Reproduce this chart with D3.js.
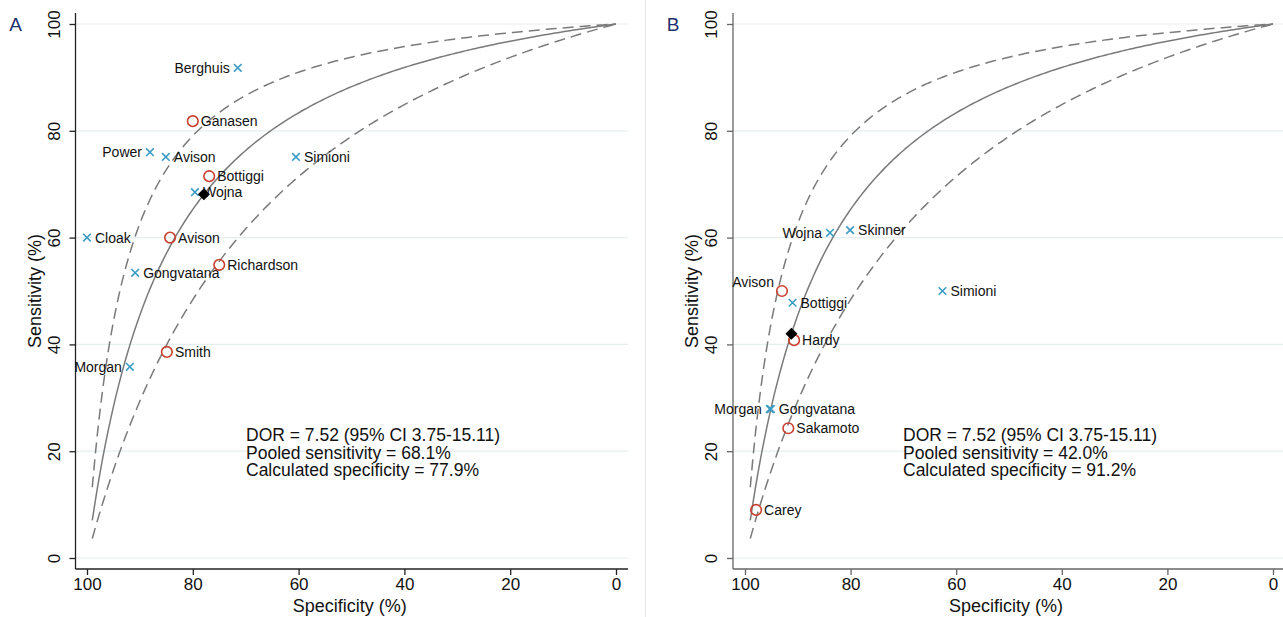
<!DOCTYPE html>
<html>
<head>
<meta charset="utf-8">
<script src="https://cdn.jsdelivr.net/npm/d3@7"></script>
<style>
  body { margin: 0; background: #fff; }
  svg { font-family: 'Liberation Sans', Arial, sans-serif; }
</style>
</head>
<body>
<div id="chart"></div>
<script>
// Panel A studies (specificity %, sensitivity %)
const namesA = ['Berghuis', 'Ganasen', 'Power', 'Avison', 'Simioni', 'Bottiggi', 'Wojna', 'Cloak', 'Avison', 'Gongvatana', 'Richardson', 'Smith', 'Morgan'];
const specA = [71.5, 80.0, 88.1, 85.1, 60.5, 76.9, 79.6, 100, 84.3, 90.9, 75.0, 84.9, 91.9];
const sensA = [91.8, 81.8, 76.0, 75.1, 75.1, 71.5, 68.5, 60.0, 60.0, 53.4, 54.9, 38.6, 35.8];
const typeA = ['x', 'o', 'x', 'x', 'x', 'o', 'x', 'x', 'o', 'x', 'o', 'o', 'x'];
const sideA = ['l', 'r', 'l', 'r', 'r', 'r', 'r', 'r', 'r', 'r', 'r', 'r', 'l'];

// Panel B studies
const namesB = ['Wojna', 'Skinner', 'Avison', 'Bottiggi', 'Simioni', 'Hardy', 'Morgan', 'Gongvatana', 'Sakamoto', 'Carey'];
const specB = [83.9, 80.1, 93.0, 91.0, 62.6, 90.7, 95.3, 95.1, 91.8, 97.9];
const sensB = [60.9, 61.4, 50.0, 47.8, 50.0, 40.8, 27.9, 27.9, 24.3, 9.0];
const typeB = ['x', 'x', 'o', 'x', 'x', 'o', 'x', 'x', 'o', 'o'];
const sideB = ['l', 'r', 'ul', 'r', 'r', 'r', 'l', 'r', 'r', 'r'];

// Pooled estimates
const pooledA = [77.9, 68.1];
const pooledB = [91.2, 42.0];

// DOR and 95% CI (lower, point, upper)
const dorValues = [3.75, 7.52, 15.11];

const textA = ['DOR = 7.52 (95% CI 3.75-15.11)', 'Pooled sensitivity = 68.1%', 'Calculated specificity = 77.9%'];
const textB = ['DOR = 7.52 (95% CI 3.75-15.11)', 'Pooled sensitivity = 42.0%', 'Calculated specificity = 91.2%'];

const ticks = [0, 20, 40, 60, 80, 100];

const W = 1283, H = 617;
const svg = d3.select('#chart').append('svg').attr('width', W).attr('height', H);

// separator between panels
svg.append('line').attr('x1', 645.5).attr('x2', 645.5).attr('y1', 0).attr('y2', H)
  .attr('stroke', '#e6e6e6').attr('stroke-width', 1);

function drawPanel(cfg) {
  const x = d3.scaleLinear().domain([100, 0]).range([cfg.x100, cfg.x0]);
  const y = d3.scaleLinear().domain([0, 100]).range([558, 24]);
  const g = svg.append('g');

  // gridlines
  g.selectAll('.grid').data(ticks).join('line')
    .attr('x1', cfg.axisX).attr('x2', cfg.right)
    .attr('y1', d => y(d)).attr('y2', d => y(d))
    .attr('stroke', '#e7eef0').attr('stroke-width', 1.2);

  // axes
  const yAxis = g.append('g').attr('transform', `translate(${cfg.axisX},0)`)
    .call(d3.axisLeft(y).tickValues(ticks).tickSize(6));
  yAxis.select('.domain').attr('d', `M0,13V569`);
  yAxis.selectAll('.tick text')
    .attr('transform', 'rotate(-90)')
    .attr('x', 0).attr('y', -16).attr('dy', 0)
    .attr('text-anchor', 'middle')
    .style('font-size', '17px').attr('fill', '#111');

  const xAxis = g.append('g').attr('transform', 'translate(0,569)')
    .call(d3.axisBottom(x).tickValues(ticks).tickSize(6).tickPadding(3));
  xAxis.select('.domain').attr('d', `M${cfg.axisX},0H${cfg.right}`);
  xAxis.selectAll('.tick text').style('font-size', '17px').attr('fill', '#111');

  g.selectAll('.domain, .tick line').attr('stroke', cfg.axisColor).attr('stroke-width', 1.3);

  // axis titles
  g.append('text').attr('x', (cfg.axisX + cfg.right) / 2 - 2).attr('y', 612)
    .attr('text-anchor', 'middle').style('font-size', '18px').attr('fill', '#111')
    .text('Specificity (%)');
  g.append('text')
    .attr('transform', `translate(${cfg.axisX - 35},${y(50)}) rotate(-90)`)
    .attr('text-anchor', 'middle').style('font-size', '18px').attr('fill', '#111')
    .text('Sensitivity (%)');

  // panel letter
  g.append('text').attr('x', cfg.axisX - 60).attr('y', 31)
    .attr('text-anchor', 'middle').style('font-size', '19px').attr('fill', '#1f2f6e')
    .text(cfg.letter);

  // SROC curves from DOR: logit(sens) = ln(DOR) + logit(1 - spec)
  const fprs = d3.range(1, 100.5, 0.5);
  const line = d3.line().x(d => x(d[0])).y(d => y(d[1]));
  dorValues.forEach((dor, i) => {
    const pts = fprs.map(f => {
      const o = (f / 100) / (1 - f / 100 + 1e-9) * dor;
      return [100 - f, f >= 100 ? 100 : 100 * o / (1 + o)];
    });
    g.append('path').attr('d', line(pts))
      .attr('fill', 'none').attr('stroke', '#7a7a7a').attr('stroke-width', 1.5)
      .attr('stroke-dasharray', i === 1 ? null : '11,6');
  });

  // study markers
  const pts = cfg.names.map((n, i) => ({ name: n, spec: cfg.spec[i], sens: cfg.sens[i], type: cfg.type[i], side: cfg.side[i] }));
  const m = g.selectAll('.pt').data(pts).join('g')
    .attr('transform', d => `translate(${x(d.spec)},${y(d.sens)})`);
  m.filter(d => d.type === 'o').append('circle').attr('r', 5.3)
    .attr('fill', 'none').attr('stroke', '#c8402e').attr('stroke-width', 1.6);
  m.filter(d => d.type === 'x').append('path').attr('d', 'M-3.8,-3.8L3.8,3.8M-3.8,3.8L3.8,-3.8')
    .attr('stroke', '#3a9cc4').attr('stroke-width', 1.6);
  m.append('text')
    .attr('x', d => d.side === 'r' ? 8 : -8)
    .attr('y', d => d.side === 'ul' ? -4 : 5)
    .attr('text-anchor', d => d.side === 'r' ? 'start' : 'end')
    .style('font-size', '14px').attr('fill', '#111')
    .text(d => d.name);

  // pooled diamond
  g.append('path').attr('d', 'M0,-6L6,0L0,6L-6,0Z')
    .attr('transform', `translate(${x(cfg.pooled[0])},${y(cfg.pooled[1])})`)
    .attr('fill', '#000');

  // annotation
  g.append('text').attr('x', cfg.textX).attr('y', 441)
    .style('font-size', '17.5px').attr('fill', '#111')
    .selectAll('tspan').data(cfg.text).join('tspan')
    .attr('x', cfg.textX).attr('dy', (d, i) => i === 0 ? 0 : 17.5)
    .text(d => d);
}

drawPanel({ letter: 'A', x100: 87, x0: 616, axisX: 75.5, right: 628, axisColor: '#222',
  names: namesA, spec: specA, sens: sensA, type: typeA, side: sideA, pooled: pooledA, text: textA, textX: 246 });
drawPanel({ letter: 'B', x100: 745, x0: 1273, axisX: 733, right: 1283, axisColor: '#666',
  names: namesB, spec: specB, sens: sensB, type: typeB, side: sideB, pooled: pooledB, text: textB, textX: 903 });
</script>
</body>
</html>
